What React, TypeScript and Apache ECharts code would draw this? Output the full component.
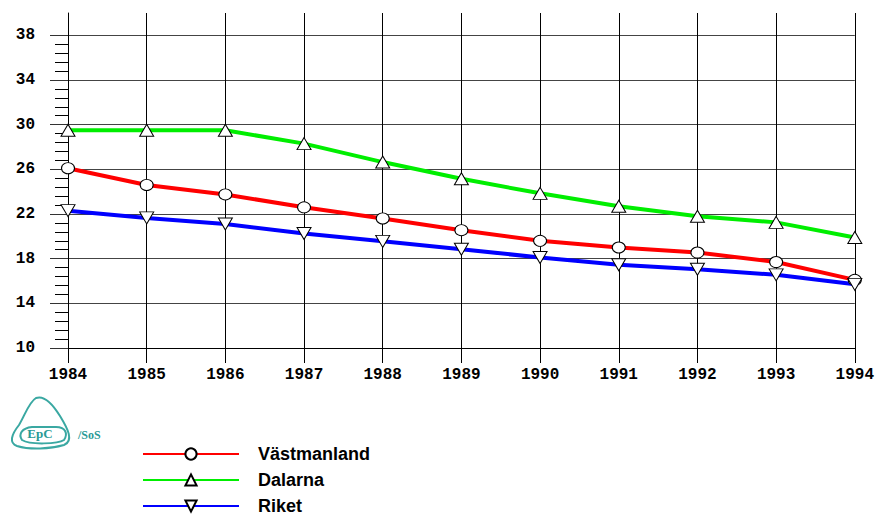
import React, { useEffect, useRef } from "react";
import * as echarts from "echarts";

const years = ["1984", "1985", "1986", "1987", "1988", "1989", "1990", "1991", "1992", "1993", "1994"];
const vastmanland = [26.1, 24.6, 23.75, 22.6, 21.6, 20.55, 19.6, 19.0, 18.55, 17.7, 16.1];
const dalarna = [29.5, 29.5, 29.5, 28.3, 26.65, 25.15, 23.85, 22.7, 21.8, 21.25, 19.9];
const riket = [22.3, 21.65, 21.1, 20.25, 19.55, 18.85, 18.1, 17.45, 17.05, 16.55, 15.7];
const seriesNames = ["Västmanland", "Dalarna", "Riket"];
const majorTicks = [10, 14, 18, 22, 26, 30, 34, 38];
const minorTicks: number[] = [];
for (let i = 0; i < majorTicks.length - 1; i++) {
  for (let k = 1; k < 5; k++) minorTicks.push(majorTicks[i] + (k * 4) / 5);
}

const logoPath =
  "M28 4 C36 1 44 9 52 22 C60 35 66 47 56 51 C42 55 22 56 9 52 C1 49 3 41 11 31 C17 21 21 8 28 4 Z M14 46 C10 40 14 34 24 33 L48 33 C58 33 60 40 56 46 C50 50 22 51 14 46 Z";
echarts.graphic.registerShape("logo", (echarts.graphic as any).extendPath(logoPath, {}));

export default function App() {
  const ref = useRef<HTMLDivElement>(null);
  useEffect(() => {
    const chart = echarts.init(ref.current!, undefined, { renderer: "svg" });
    const markerStyle = { color: "#ffffff", borderColor: "#000000", borderWidth: 1 };
    const legends = seriesNames.map((name, i) => ({
      orient: "vertical",
      left: 142,
      top: 445 + i * 26,
      padding: 0,
      itemWidth: 96,
      itemHeight: 14,
      textStyle: { fontFamily: "Liberation Sans", fontWeight: "bold", fontSize: 18, color: "#000", padding: [0, 0, 0, 14] },
      data: [name],
    }));
    chart.setOption({
      animation: false,
      backgroundColor: "#ffffff",
      grid: { left: 68, right: 20, top: 13, bottom: 168, containLabel: false },
      legend: legends,
      xAxis: {
        type: "category",
        data: years,
        boundaryGap: false,
        axisLine: { lineStyle: { color: "#000", width: 1 } },
        axisTick: { show: true, length: 15, alignWithLabel: true, lineStyle: { color: "#000" } },
        axisLabel: { fontFamily: "Liberation Mono", fontWeight: "bold", fontSize: 16, color: "#000", margin: 19 },
        splitLine: { show: true, lineStyle: { color: "#000", width: 1 } },
      },
      yAxis: [
        {
          type: "value",
          min: 10,
          max: 40,
          interval: 4,
          axisLine: { show: true, lineStyle: { color: "#000" } },
          axisTick: { show: true, length: 18, customValues: majorTicks, lineStyle: { color: "#333" } },
          axisLabel: {
            fontFamily: "Liberation Mono",
            fontWeight: "bold",
            fontSize: 16,
            color: "#000",
            margin: 33,
            customValues: majorTicks,
          },
          splitLine: { show: true, lineStyle: { color: "#444", width: 1 } },
        },
        {
          type: "value",
          min: 10,
          max: 40,
          position: "left",
          axisLine: { show: false },
          axisTick: { show: true, length: 13, customValues: minorTicks, lineStyle: { color: "#000" } },
          axisLabel: { show: false },
          splitLine: { show: false },
        },
      ],
      series: [
        {
          name: seriesNames[0],
          type: "line",
          data: vastmanland,
          color: "#ff0000",
          lineStyle: { color: "#ff0000", width: 4 },
          symbol: "circle",
          symbolSize: [13, 11],
          itemStyle: markerStyle,
          z: 3,
        },
        {
          name: seriesNames[1],
          type: "line",
          data: dalarna,
          color: "#00ee00",
          lineStyle: { color: "#00ee00", width: 4 },
          symbol: "triangle",
          symbolSize: [14, 12],
          itemStyle: markerStyle,
          z: 3,
        },
        {
          name: seriesNames[2],
          type: "line",
          data: riket,
          color: "#0000ff",
          lineStyle: { color: "#0000ff", width: 4 },
          symbol: "triangle",
          symbolRotate: 180,
          symbolSize: [14, 12],
          itemStyle: markerStyle,
          z: 3,
        },
      ],
      graphic: [
        {
          type: "logo",
          x: 8,
          y: 394,
          scaleX: 1,
          scaleY: 1,
          style: { fill: "none", stroke: "#3aa8a2", lineWidth: 2 },
        },
        {
          type: "text",
          x: 40,
          y: 433,
          style: {
            text: "EpC",
            fill: "#2a9a96",
            font: "bold 13px 'Liberation Serif'",
            textAlign: "center",
            textVerticalAlign: "middle",
          },
        },
        {
          type: "text",
          x: 78,
          y: 435,
          style: {
            text: "/SoS",
            fill: "#2a9a96",
            font: "bold 12px 'Liberation Serif'",
            textVerticalAlign: "middle",
          },
        },
      ],
    });
    return () => chart.dispose();
  }, []);
  return <div ref={ref} style={{ width: 877, height: 516, position: "absolute", left: 0, top: 0 }} />;
}
